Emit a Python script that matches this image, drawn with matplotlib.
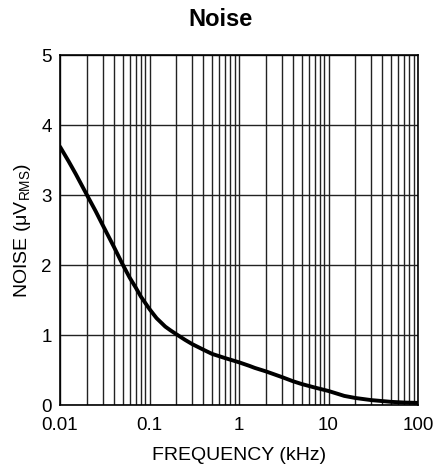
import matplotlib
matplotlib.use("Agg")
import matplotlib.pyplot as plt
from matplotlib.ticker import NullFormatter, LogLocator

plt.rcParams['font.family'] = ['Liberation Sans', 'DejaVu Sans']
plt.rcParams['mathtext.fontset'] = 'custom'
plt.rcParams['mathtext.rm'] = 'Liberation Sans'

freq_khz = [0.01, 0.0125, 0.015, 0.02, 0.025, 0.03, 0.04, 0.05, 0.06, 0.07, 0.08, 0.1,
            0.12, 0.15, 0.17, 0.2, 0.25, 0.3, 0.4, 0.5, 0.7,
            1, 1.3, 1.5, 2, 3, 4, 5, 7, 10, 13, 15, 20, 30, 50, 70, 100]
noise_uv = [3.69, 3.48, 3.30, 3.00, 2.77, 2.57, 2.26, 2.01, 1.82, 1.68, 1.55, 1.37,
            1.24, 1.12, 1.07, 1.01, 0.93, 0.87, 0.79, 0.73, 0.67,
            0.61, 0.56, 0.53, 0.48, 0.40, 0.34, 0.30, 0.25, 0.20, 0.155, 0.13, 0.10, 0.07, 0.045, 0.035, 0.03]
x_ticks = [0.01, 0.1, 1, 10, 100]
x_tick_labels = ['0.01', '0.1', '1', '10', '100']
y_ticks = [0, 1, 2, 3, 4, 5]

fig = plt.figure(figsize=(4.41, 4.74), dpi=100)
ax = fig.add_axes([60/441, 1-405/474, 358/441, 350/474])

ax.plot(freq_khz, noise_uv, color='black', linewidth=2.8, solid_capstyle='round',
        solid_joinstyle='round', zorder=3)
ax.set_xscale('log')
ax.set_xlim(0.01, 100)
ax.set_ylim(0, 5)
ax.set_xticks(x_ticks)
ax.set_xticklabels(x_tick_labels)
ax.xaxis.set_minor_locator(LogLocator(base=10, subs=range(2, 10), numticks=20))
ax.xaxis.set_minor_formatter(NullFormatter())
ax.set_yticks(y_ticks)
ax.grid(True, which='major', axis='both', color='#222222', linewidth=1.0)
ax.grid(True, which='minor', axis='x', color='#222222', linewidth=1.0)
ax.tick_params(which='both', length=0, labelsize=13.5)
ax.tick_params(axis='x', pad=9)
ax.tick_params(axis='y', pad=6)
for s in ax.spines.values():
    s.set_linewidth(1.2)

ax.set_xlabel('FREQUENCY (kHz)', fontsize=14, labelpad=9)
ax.set_ylabel('NOISE (μV$_{\\mathrm{RMS}}$)', fontsize=14, labelpad=6)
fig.text(0.5, 1-19/474, 'Noise', ha='center', va='center', fontsize=17, fontweight='bold')

fig.savefig('out.png', dpi=100)
